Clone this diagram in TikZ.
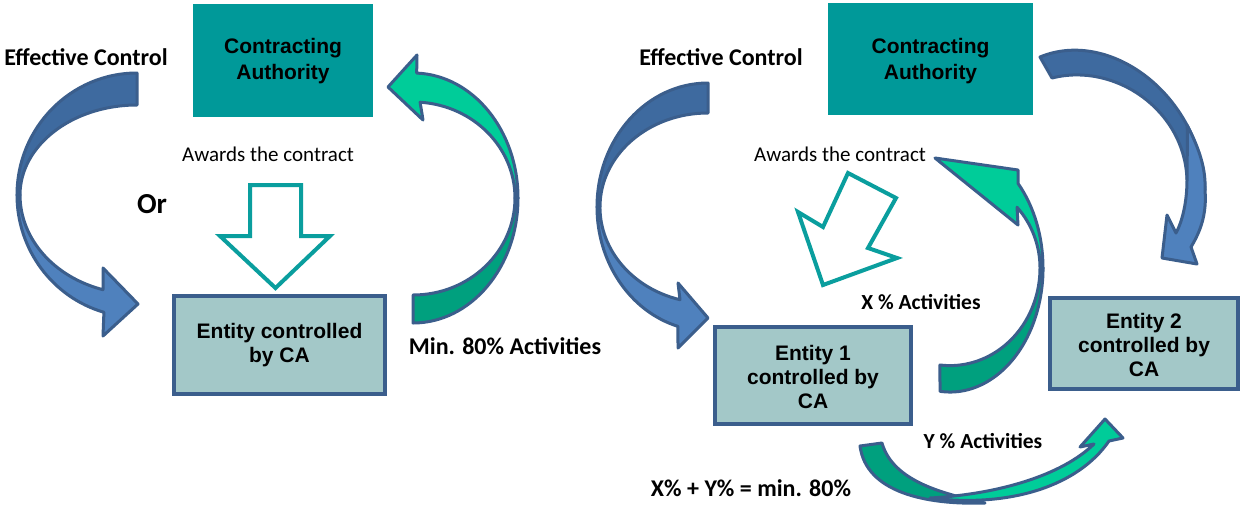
\documentclass[tikz,border=0pt]{standalone}
\usepackage{fontspec}
\setmainfont{Carlito}
\newfontfamily\arialf{Liberation Sans}
\definecolor{caTeal}{HTML}{009999}
\definecolor{boxfill}{HTML}{A3C8C8}
\definecolor{navy}{HTML}{3B5E8C}
\definecolor{blueD}{HTML}{3E6A9F}
\definecolor{blueL}{HTML}{4F81BD}
\definecolor{greenL}{HTML}{00CC99}
\definecolor{greenD}{HTML}{00A07E}
\definecolor{hollowC}{HTML}{0A9E9E}
\tikzset{
 lbl/.style={font=\bfseries\fontsize{24}{28}\selectfont, inner sep=0},
 lbls/.style={font=\bfseries\fontsize{21.5}{25}\selectfont, inner sep=0},
 reg/.style={font=\fontsize{21}{25}\selectfont, inner sep=0},
 cabox/.style={fill=caTeal},
 catext/.style={font=\arialf\bfseries\fontsize{21}{26}\selectfont, align=center, inner sep=0},
 entbox/.style={fill=boxfill, draw=navy, line width=4},
 enttext/.style={font=\arialf\bfseries\fontsize{21}{24}\selectfont, align=center, inner sep=0},
 arrB/.style={draw=navy, line width=3, line join=round},
 hollow/.style={draw=hollowC, line width=4, fill=white, line join=miter},
}
\begin{document}
\begin{tikzpicture}[x=1pt,y=-1pt]
\useasboundingbox[fill=white] (0,0) rectangle (1245,507);

% ---------- left half ----------
\node[cabox, minimum width=180, minimum height=113] (ca1) at (283,60) {};
\node[catext] (ca1t) at (283,61) {Contracting\\Authority};
\node[entbox, minimum width=211, minimum height=98] (e0) at (279.5,345) {};
\node[enttext] (e0t) at (279.5,345.5) {Entity controlled\\by CA};
\node[lbl] (ec1) at (86,57) {Effective Control};
\node[reg] (aw1) at (268,154) {Awards the contract};
\node[font=\bfseries\fontsize{29}{33}\selectfont, inner sep=0] (or) at (152,204) {Or};
\node[lbl] (min) at (505,346) {Min. 80\% Activities};

% hollow down arrow
\draw[hollow] (250,185) -- (301,185) -- (301,236) -- (330,236) -- (275.5,288) -- (220,236) -- (250,236) -- cycle;

% left blue curved arrow
\path[arrB, fill=blueD] (137,73) arc[start angle=270, end angle=180, x radius=120, y radius=122]
  -- (20,195) arc[start angle=180, end angle=270, x radius=117, y radius=90] -- cycle;
\path[arrB, fill=blueL] (17,195) arc[start angle=180, end angle=106, x radius=120, y radius=122]
  -- (103,336) -- (138,304) -- (103,268) -- (103,289.7)
  arc[start angle=106.9, end angle=180, x radius=117, y radius=99] -- cycle;

% left green curved arrow
\path[arrB, fill=greenD] (413,323) arc[start angle=90, end angle=0, x radius=105, y radius=125]
  -- (515,198) arc[start angle=0, end angle=90, x radius=102, y radius=97] -- cycle;
\path[arrB, fill=greenL] (518,198) arc[start angle=360, end angle=272, x radius=105, y radius=125]
  -- (417,55) -- (388,87) -- (423,120) -- (420.1,102.2)
  arc[start angle=274, end angle=360, x radius=102, y radius=96] -- cycle;

% ---------- right half ----------
\node[cabox, minimum width=205, minimum height=112] (ca2) at (930.5,59) {};
\node[catext] (ca2t) at (930.5,61) {Contracting\\Authority};
\node[entbox, minimum width=196, minimum height=97] (e1) at (813,375.5) {};
\node[enttext] (e1t) at (813,377) {Entity 1\\controlled by\\CA};
\node[entbox, minimum width=188, minimum height=91] (e2) at (1144,343.5) {};
\node[enttext] (e2t) at (1144,345) {Entity 2\\controlled by\\CA};
\node[lbl] (ec2) at (721,57) {Effective Control};
\node[reg] (aw2) at (840,154) {Awards the contract};
\node[lbls] (xa) at (921,302) {X \% Activities};
\node[lbls] (ya) at (983,441) {Y \% Activities};
\node[lbl] (sum) at (751,488) {X\% + Y\% = min. 80\%};

% hollow diagonal arrow
\draw[hollow] (848,173) -- (896,198) -- (868,248) -- (897,258) -- (823,285) -- (798,212) -- (823,227) -- cycle;

% right blue curved arrow (effective control)
\path[arrB, fill=blueD] (708,83) arc[start angle=270, end angle=180, x radius=111, y radius=124]
  -- (600,207) arc[start angle=180, end angle=270, x radius=108, y radius=94] -- cycle;
\path[arrB, fill=blueL] (597,207) arc[start angle=180, end angle=105.7, x radius=111, y radius=124]
  -- (678,348) -- (708,318) -- (678,283) -- (680,299.7)
  arc[start angle=105, end angle=180, x radius=108, y radius=96] -- cycle;

% right green arrow (X %)
\path[arrB, fill=greenD] (940,391.3) arc[start angle=96.2, end angle=0, x radius=93, y radius=124]
  -- (1040,268) arc[start angle=0, end angle=96.4, x radius=90, y radius=97.6] -- cycle;
\path[arrB, fill=greenL] (1043,268) arc[start angle=360, end angle=317, x radius=93, y radius=124]
  -- (1018,170) -- (935,158) -- (1018,225) -- (1017,207.2)
  arc[start angle=318.1, end angle=360, x radius=90, y radius=91] -- cycle;

% top-right blue arrow
\path[arrB, fill=blueD] (1040,57) .. controls (1110,28) and (1200,95) .. (1205,190)
  -- (1187,180) .. controls (1185,110) and (1115,62) .. (1052,78) -- cycle;
\path[arrB, fill=blueL] (1187,125) .. controls (1200,150) and (1206,170) .. (1205,190)
  .. controls (1207,215) and (1200,232) .. (1191,247) -- (1197,264) -- (1162,258) -- (1167,215) -- (1176,233)
  .. controls (1183,220) and (1187,200) .. (1187,180) .. controls (1187,155) and (1188,135) .. (1187,125) -- cycle;

% bottom green arrow (Y %)
\path[arrB, fill=greenD] (860,446) .. controls (866,492) and (925,505) .. (985,503)
  .. controls (945,494) and (893,482) .. (882,443) -- cycle;
\path[arrB, fill=greenL] (930,498) .. controls (1010,508) and (1078,486) .. (1109,441)
  -- (1123,438) -- (1105,419) -- (1080,447) -- (1094,444)
  .. controls (1062,475) and (1000,494) .. (930,498) -- cycle;
\end{tikzpicture}
\end{document}
